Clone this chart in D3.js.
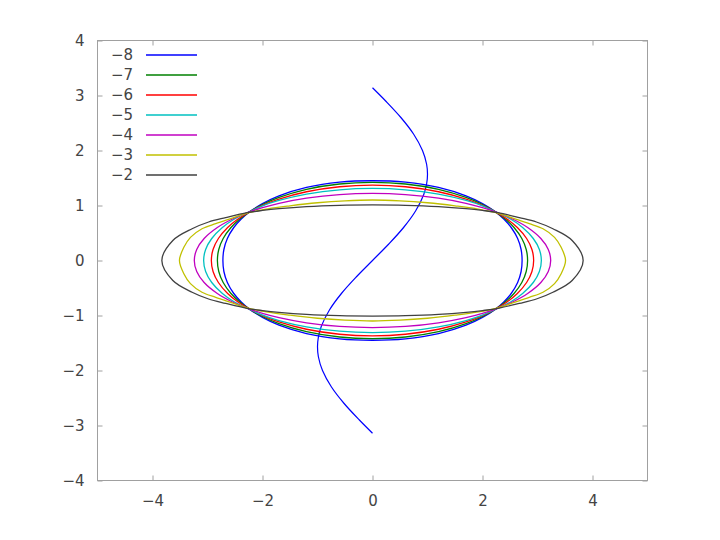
<!DOCTYPE html>
<html><head><meta charset="utf-8">
<script src="https://cdn.jsdelivr.net/npm/d3@7"></script>
<style>body{margin:0;background:#fff}svg{display:block}</style>
</head><body>
<svg id="c" width="720" height="540"></svg>
<script>
const levels = [-8, -7, -6, -5, -4, -3, -2];
const colors = ["#0000ff", "#008000", "#ff0000", "#00c0c0", "#c000c0", "#c0c000", "#404040"];
const xTicks = [-4, -2, 0, 2, 4];
const yTicks = [-4, -3, -2, -1, 0, 1, 2, 3, 4];

const curveM8 = [[2.72,0],[2.702,0.2],[2.639,0.4],[2.522,0.6],[2.391,0.75],[2.25,0.875],[2.0,1.034],[1.7,1.175],[1.2,1.328],[0.6,1.424],[0,1.45],
[-0.6,1.424],[-1.2,1.328],[-1.7,1.175],[-2.0,1.034],[-2.25,0.875],[-2.391,0.75],[-2.522,0.6],[-2.639,0.4],[-2.702,0.2],[-2.72,0],
[-2.702,-0.2],[-2.639,-0.4],[-2.522,-0.6],[-2.391,-0.75],[-2.25,-0.875],[-2.0,-1.034],[-1.7,-1.175],[-1.2,-1.328],[-0.6,-1.424],[0,-1.45],
[0.6,-1.424],[1.2,-1.328],[1.7,-1.175],[2.0,-1.034],[2.25,-0.875],[2.391,-0.75],[2.522,-0.6],[2.639,-0.4],[2.702,-0.2]];
const curveM7 = [[2.82,0],[2.795,0.2],[2.715,0.4],[2.573,0.6],[2.418,0.75],[2.25,0.875],[2.0,1.018],[1.7,1.147],[1.2,1.294],[0.6,1.391],[0,1.42],
[-0.6,1.391],[-1.2,1.294],[-1.7,1.147],[-2.0,1.018],[-2.25,0.875],[-2.418,0.75],[-2.573,0.6],[-2.715,0.4],[-2.795,0.2],[-2.82,0],
[-2.795,-0.2],[-2.715,-0.4],[-2.573,-0.6],[-2.418,-0.75],[-2.25,-0.875],[-2.0,-1.018],[-1.7,-1.147],[-1.2,-1.294],[-0.6,-1.391],[0,-1.42],
[0.6,-1.391],[1.2,-1.294],[1.7,-1.147],[2.0,-1.018],[2.25,-0.875],[2.418,-0.75],[2.573,-0.6],[2.715,-0.4],[2.795,-0.2]];
const curveM6 = [[2.93,0],[2.899,0.2],[2.802,0.4],[2.634,0.6],[2.452,0.75],[2.25,0.875],[2.0,1.001],[1.7,1.116],[1.2,1.25],[0.6,1.341],[0,1.37],
[-0.6,1.341],[-1.2,1.25],[-1.7,1.116],[-2.0,1.001],[-2.25,0.875],[-2.452,0.75],[-2.634,0.6],[-2.802,0.4],[-2.899,0.2],[-2.93,0],
[-2.899,-0.2],[-2.802,-0.4],[-2.634,-0.6],[-2.452,-0.75],[-2.25,-0.875],[-2.0,-1.001],[-1.7,-1.116],[-1.2,-1.25],[-0.6,-1.341],[0,-1.37],
[0.6,-1.341],[1.2,-1.25],[1.7,-1.116],[2.0,-1.001],[2.25,-0.875],[2.452,-0.75],[2.634,-0.6],[2.802,-0.4],[2.899,-0.2]];
const curveM5 = [[3.07,0],[3.034,0.2],[2.923,0.4],[2.729,0.6],[2.517,0.75],[2.25,0.88],[2.0,0.994],[1.7,1.091],[1.2,1.206],[0.6,1.285],[0,1.31],
[-0.6,1.285],[-1.2,1.206],[-1.7,1.091],[-2.0,0.994],[-2.25,0.88],[-2.517,0.75],[-2.729,0.6],[-2.923,0.4],[-3.034,0.2],[-3.07,0],
[-3.034,-0.2],[-2.923,-0.4],[-2.729,-0.6],[-2.517,-0.75],[-2.25,-0.88],[-2.0,-0.994],[-1.7,-1.091],[-1.2,-1.206],[-0.6,-1.285],[0,-1.31],
[0.6,-1.285],[1.2,-1.206],[1.7,-1.091],[2.0,-0.994],[2.25,-0.88],[2.517,-0.75],[2.729,-0.6],[2.923,-0.4],[3.034,-0.2]];
const curveM4 = [[3.24,0],[3.196,0.2],[3.061,0.4],[2.821,0.6],[2.555,0.75],[2.25,0.878],[2.0,0.96],[1.7,1.039],[1.2,1.133],[0.6,1.199],[0,1.22],
[-0.6,1.199],[-1.2,1.133],[-1.7,1.039],[-2.0,0.96],[-2.25,0.878],[-2.555,0.75],[-2.821,0.6],[-3.061,0.4],[-3.196,0.2],[-3.24,0],
[-3.196,-0.2],[-3.061,-0.4],[-2.821,-0.6],[-2.555,-0.75],[-2.25,-0.878],[-2.0,-0.96],[-1.7,-1.039],[-1.2,-1.133],[-0.6,-1.199],[0,-1.22],
[0.6,-1.199],[1.2,-1.133],[1.7,-1.039],[2.0,-0.96],[2.25,-0.878],[2.555,-0.75],[2.821,-0.6],[3.061,-0.4],[3.196,-0.2]];
const curveM3 = [[3.51,0],[3.43,0.24],[3.31,0.42],[3.10,0.577],[2.85,0.67],[2.55,0.77],[2.28,0.86],[1.9,0.94],[1.5,0.995],[1.0,1.05],[0.5,1.085],[0,1.10],
[-0.5,1.085],[-1.0,1.05],[-1.5,0.995],[-1.9,0.94],[-2.28,0.86],[-2.55,0.77],[-2.85,0.67],[-3.10,0.577],[-3.31,0.42],[-3.43,0.24],[-3.51,0],
[-3.43,-0.24],[-3.31,-0.42],[-3.10,-0.577],[-2.85,-0.67],[-2.55,-0.77],[-2.28,-0.86],[-1.9,-0.94],[-1.5,-0.995],[-1.0,-1.05],[-0.5,-1.085],[0,-1.10],
[0.5,-1.085],[1.0,-1.05],[1.5,-0.995],[1.9,-0.94],[2.28,-0.86],[2.55,-0.77],[2.85,-0.67],[3.10,-0.577],[3.31,-0.42],[3.43,-0.24]];
const curveM2 = [[3.83,0],[3.63,0.364],[3.28,0.577],[2.98,0.70],[2.67,0.78],[2.28,0.87],[2.0,0.91],[1.7,0.943],[1.2,0.981],[0.6,1.004],[0,1.01],
[-0.6,1.004],[-1.2,0.981],[-1.7,0.943],[-2.0,0.91],[-2.28,0.87],[-2.67,0.78],[-2.98,0.70],[-3.28,0.577],[-3.63,0.364],[-3.83,0],
[-3.63,-0.364],[-3.28,-0.577],[-2.98,-0.70],[-2.67,-0.78],[-2.28,-0.87],[-2.0,-0.91],[-1.7,-0.943],[-1.2,-0.981],[-0.6,-1.004],[0,-1.01],
[0.6,-1.004],[1.2,-0.981],[1.7,-0.943],[2.0,-0.91],[2.28,-0.87],[2.67,-0.78],[2.98,-0.70],[3.28,-0.577],[3.63,-0.364]];
// open branch of the -8 level (S-shaped)
const branchM8 = [[0,-3.14],[-0.239,-2.9],[-0.516,-2.6],[-0.746,-2.3],[-0.909,-2.0],[-0.984,-1.75],[-1.0,-1.57],[-0.985,-1.4],[-0.932,-1.2],[-0.783,-0.9],[-0.565,-0.6],[-0.296,-0.3],[0,0],[0.296,0.3],[0.565,0.6],[0.783,0.9],[0.932,1.2],[0.985,1.4],[1.0,1.57],[0.984,1.75],[0.909,2.0],[0.746,2.3],[0.516,2.6],[0.239,2.9],[0,3.14]];

const loops = [curveM8, curveM7, curveM6, curveM5, curveM4, curveM3, curveM2];

const svg = d3.select("#c");
const L = 97.5, R = 647.5, T = 40.5, B = 480.5;
const x = d3.scaleLinear().domain([-5, 5]).range([L, R]);
const y = d3.scaleLinear().domain([-4, 4]).range([B, T]);
const font = "'DejaVu Sans', sans-serif";
const axisCol = "#a0a0a0", textCol = "#444";

function styleAxis(g, showText) {
  g.select(".domain").remove();
  g.selectAll(".tick line").attr("stroke", axisCol);
  g.selectAll(".tick text").attr("fill", textCol).style("font-family", font).style("font-size", "15px");
  if (!showText) g.selectAll(".tick text").remove();
}
svg.append("g").attr("transform", `translate(0,${B})`)
  .call(d3.axisBottom(x).tickValues(xTicks).tickSize(-5).tickPadding(15).tickFormat(d3.format("d")))
  .call(g => styleAxis(g, true));
svg.append("g").attr("transform", `translate(0,${T})`)
  .call(d3.axisTop(x).tickValues(xTicks).tickSize(-5))
  .call(g => styleAxis(g, false));
svg.append("g").attr("transform", `translate(${L},0)`)
  .call(d3.axisLeft(y).tickValues(yTicks).tickSize(-5).tickPadding(13).tickFormat(d3.format("d")))
  .call(g => styleAxis(g, true));
svg.append("g").attr("transform", `translate(${R},0)`)
  .call(d3.axisRight(y).tickValues(yTicks).tickSize(-5))
  .call(g => styleAxis(g, false));
svg.append("rect").attr("x", L).attr("y", T).attr("width", R - L).attr("height", B - T)
  .attr("fill", "none").attr("stroke", axisCol).attr("stroke-width", 1);

const lineClosed = d3.line().x(d => x(d[0])).y(d => y(d[1])).curve(d3.curveCatmullRomClosed.alpha(0.5));
const lineOpen = d3.line().x(d => x(d[0])).y(d => y(d[1])).curve(d3.curveCatmullRom.alpha(0.5));

svg.append("path").attr("d", lineOpen(branchM8)).attr("fill", "none").attr("stroke", colors[0]).attr("stroke-width", 1.2);
loops.forEach((pts, i) => {
  svg.append("path").attr("d", lineClosed(pts)).attr("fill", "none")
    .attr("stroke", colors[i]).attr("stroke-width", 1.3);
});

// legend
const fmt = d3.format("d");
const leg = svg.append("g");
levels.forEach((lv, i) => {
  const yy = 55 + 20 * i;
  leg.append("text").attr("x", 133).attr("y", yy).attr("dy", "0.36em").attr("text-anchor", "end")
    .attr("fill", textCol).style("font-family", font).style("font-size", "15px").text(fmt(lv));
  leg.append("line").attr("x1", 146).attr("x2", 197).attr("y1", yy).attr("y2", yy)
    .attr("stroke", colors[i]).attr("stroke-width", 1.3);
});
</script>
</body></html>
